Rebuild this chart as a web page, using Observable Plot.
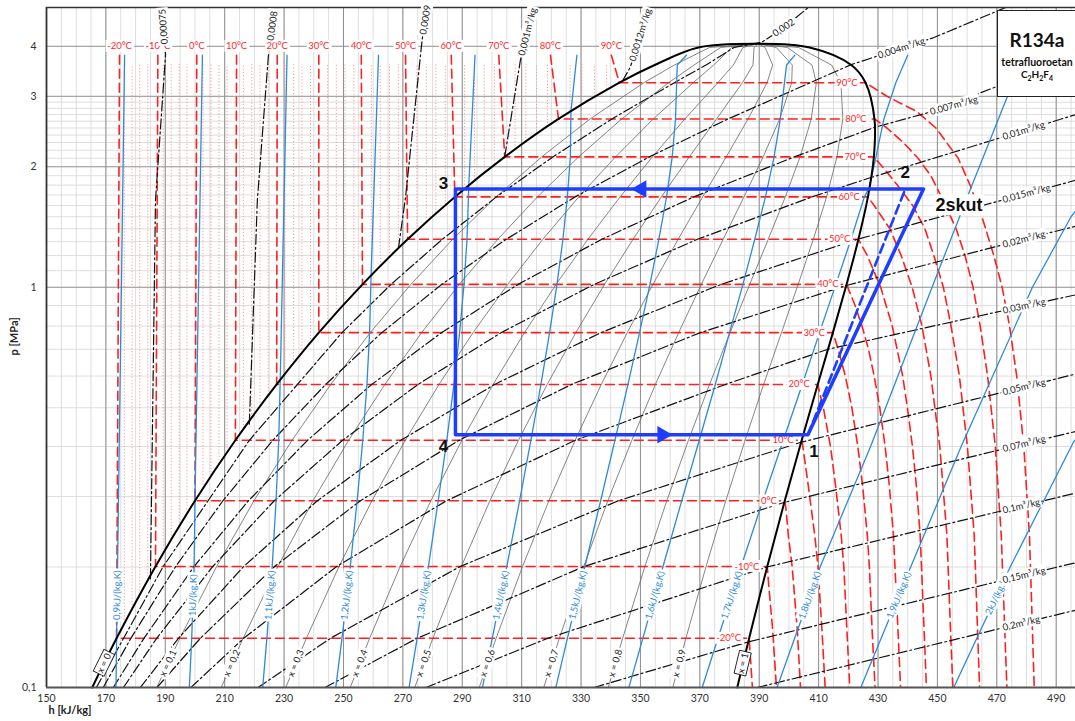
<!DOCTYPE html>
<html><head><meta charset="utf-8">
<script src="https://cdn.jsdelivr.net/npm/d3@7"></script>
<script src="https://cdn.jsdelivr.net/npm/@observablehq/plot@0.6"></script>
<style>
body{margin:0;background:#fff;font-family:Lato,"Liberation Sans",sans-serif;}
#wrap{position:relative;width:1075px;height:721px;overflow:hidden;}
#box{position:absolute;left:997px;top:10px;width:100px;height:87px;border:1.5px solid #222;background:#fff;box-sizing:border-box;}
#box .in{width:78px;text-align:center;color:#111;}
#box .t1{font-weight:bold;font-size:19px;margin-top:19px;line-height:20px;}
#box .t2{font-weight:bold;font-size:10.5px;margin-top:6px;line-height:12px;}
#box .t3{font-weight:bold;font-size:10px;line-height:13px;}
#box sub{font-size:7px;}
</style></head>
<body><div id="wrap"><div id="chart"></div>
<div id="box"><div class="in"><div class="t1">R134a</div><div class="t2">tetrafluoroetan</div><div class="t3">C<sub>2</sub>H<sub>2</sub>F<sub>4</sub></div></div></div>
</div>
<script>
// ================= DATA =================
const hTicks = [150,170,190,210,230,250,270,290,310,330,350,370,390,410,430,450,470,490];
const pTicks = [0.1,1,2,3,4];
const pMinorGrid = [0.2,0.3,0.4,0.5,0.6,0.7,0.8,0.9,1.1,1.2,1.3,1.4,1.5,1.6,1.7,1.8,1.9,2.1,2.2,2.3,2.4,2.5,2.6,2.7,2.8,2.9];

// saturation dome
const satP  = [0.1,0.1327,0.2006,0.2928,0.4146,0.5717,0.7702,1.0166,1.3179,1.6818,2.1168,2.6332,3.2442,3.5912,3.9724];
const satHf = [165.4,173.6,186.7,200.0,213.6,227.5,241.7,256.4,271.6,287.5,304.3,322.4,342.9,354.8,369.5];
const satHg = [382.6,386.6,392.7,398.6,404.3,409.7,414.8,419.4,423.4,426.6,428.6,428.8,425.8,421.0,407.0];
const critP = 4.0593, critH = 389.6;

// quality lines
const qualities = [0.1,0.2,0.3,0.4,0.5,0.6,0.7,0.8,0.9];
const qualityLabelP = 0.115;

// isotherms (major)
const isoT       = [-20,-10,0,10,20,30,40,50,60,70,80,90];
const isoPsat    = [0.1327,0.2006,0.2928,0.4146,0.5717,0.7702,1.0166,1.3179,1.6818,2.1168,2.6332,3.2442];
const isoHLiq    = [173.6,186.7,200.0,213.6,227.5,241.7,256.4,271.6,287.5,304.3,322.4,342.9];
const isoHLiqTop = [174.6,187.5,200.6,214.0,227.7,241.7,256.0,270.9,286.3,302.3,319.7,340.2];
const liquidTopP = 3.8, minorTopP = 3.6, isoLabelP = 4.0;
// superheated branches [p, h]
const sh_m20 = [[0.1327,386.6],[0.1,387.7]];
const sh_m10 = [[0.2006,392.7],[0.18,393.2],[0.14,394.5],[0.1,395.8]];
const sh_0   = [[0.2928,398.6],[0.28,399.0],[0.24,399.8],[0.2,401.1],[0.14,402.8],[0.1,403.9]];
const sh_10  = [[0.4146,404.3],[0.4,404.7],[0.32,406.5],[0.24,408.7],[0.2,409.8],[0.14,411.1],[0.1,412.2]];
const sh_20  = [[0.5717,409.7],[0.5,411.6],[0.4,414.0],[0.32,415.7],[0.24,417.6],[0.2,418.5],[0.14,419.5],[0.1,420.5]];
const sh_30  = [[0.7702,414.8],[0.7,416.6],[0.6,419.0],[0.5,421.2],[0.4,423.2],[0.32,424.8],[0.24,426.4],[0.2,427.1],[0.14,428.0],[0.1,429.0]];
const sh_40  = [[1.0166,419.4],[0.9,422.3],[0.8,424.6],[0.7,426.8],[0.6,428.7],[0.5,430.6],[0.4,432.4],[0.32,433.8],[0.24,435.2],[0.14,436.7],[0.1,437.6]];
const sh_50  = [[1.3179,423.4],[1.2,426.4],[1.0,430.9],[0.8,434.8],[0.6,438.3],[0.5,439.9],[0.4,441.6],[0.32,442.9],[0.24,444.2],[0.14,445.5],[0.1,446.3]];
const sh_60  = [[1.6818,426.6],[1.6,428.7],[1.4,434.0],[1.2,437.8],[1.0,441.5],[0.8,444.8],[0.6,447.8],[0.4,450.8],[0.24,453.2],[0.14,454.4],[0.1,455.2]];
const sh_70  = [[2.1168,428.6],[2.0,431.5],[1.8,436.5],[1.6,441.7],[1.4,445.8],[1.2,448.8],[1.0,452.0],[0.8,454.6],[0.6,457.4],[0.4,460.1],[0.24,462.4],[0.14,463.5],[0.1,464.2]];
const sh_80  = [[2.6332,428.8],[2.5,433.0],[2.3,438.5],[2.1,443.5],[1.9,447.8],[1.6,452.8],[1.4,456.3],[1.2,459.3],[1.0,462.0],[0.8,464.4],[0.6,466.9],[0.4,469.5],[0.24,471.5],[0.1,473.4]];
const sh_90  = [[3.2442,425.8],[3.0,433.0],[2.75,443.0],[2.5,449.5],[2.1,457.0],[1.8,461.0],[1.5,465.0],[1.2,469.0],[1.0,471.8],[0.8,474.3],[0.6,476.7],[0.4,479.1],[0.24,481.0],[0.1,482.6]];
const superheat = [sh_m20,sh_m10,sh_0,sh_10,sh_20,sh_30,sh_40,sh_50,sh_60,sh_70,sh_80,sh_90];

// minor (2 degC) liquid isotherms
const minorHLiq = [176.2,178.8,181.4,184.1,189.3,192.0,194.7,197.3,202.7,205.4,208.1,210.8,216.3,219.1,221.9,224.7,230.3,233.2,236.0,238.9,244.6,247.6,250.5,253.5,259.4,262.4,265.5,268.5,274.7,277.9,281.1,284.3,290.8,294.1,297.4,300.8,307.8,311.4,315.0,318.7,326.3,330.3,334.5,338.6];
const minorPsat = [0.1446,0.1573,0.1708,0.1852,0.2171,0.2345,0.2530,0.2724,0.3143,0.3377,0.3620,0.3876,0.4430,0.4715,0.5043,0.5377,0.6080,0.6455,0.6853,0.7267,0.8157,0.8630,0.9123,0.9636,1.0722,1.1301,1.1903,1.2531,1.3860,1.4566,1.5305,1.6052,1.7653,1.8500,1.9375,2.0265,2.2109,2.3080,2.4090,2.5140,2.7500,2.8700,2.9900,3.1200];

// isentropes [p, h]
const s090 = [[0.1,173.4],[0.1327,173.6],[3.8,176.3]];
const s100 = [[0.1,198.1],[0.1327,198.9],[0.2006,199.7],[0.2928,200.0],[3.8,202.5]];
const s110 = [[0.1,222.8],[0.1327,224.2],[0.2006,226.0],[0.2928,227.3],[0.4146,228.2],[0.585,228.7],[3.8,231.0]];
const s120 = [[0.1,247.4],[0.1327,249.5],[0.2006,252.3],[0.2928,254.6],[0.4146,256.5],[0.5717,257.9],[0.7702,258.8],[1.07,259.3],[3.8,261.8]];
const s130 = [[0.1,272.1],[0.1327,274.8],[0.2006,278.6],[0.2928,281.9],[0.4146,284.8],[0.5717,287.2],[0.7702,289.1],[1.0166,290.6],[1.3179,291.6],[1.79,292.2],[3.8,294.3]];
const s140 = [[0.1,296.8],[0.1327,300.1],[0.2006,305.0],[0.2928,309.3],[0.4146,313.1],[0.5717,316.5],[0.7702,319.4],[1.0166,321.9],[1.3179,323.9],[1.6818,325.4],[2.1168,326.4],[2.75,326.6],[3.8,328.6]];
const s150 = [[0.1,321.5],[0.1327,325.4],[0.2006,331.3],[0.2928,336.6],[0.4146,341.4],[0.5717,345.8],[0.7702,349.7],[1.0166,353.2],[1.3179,356.2],[1.6818,358.8],[2.1168,360.7],[2.6332,361.8],[3.2442,362.2],[3.5912,362.4],[3.8,365.5]];
const s160 = [[0.1,346.1],[0.1327,350.8],[0.2006,357.6],[0.2928,363.9],[0.4146,369.8],[0.5717,375.2],[0.7702,380.0],[1.0166,384.5],[1.3179,388.5],[1.6818,392.1],[2.1168,395.0],[2.6332,397.1],[3.2442,398.5],[3.5912,399.2],[3.8,402.0]];
const s170 = [[0.1,370.8],[0.1327,376.1],[0.2006,383.9],[0.2928,391.2],[0.4146,398.1],[0.5717,404.5],[0.7702,410.3],[1.0166,415.8],[1.3179,420.9],[1.6818,425.4],[1.77,427.0],[2.1168,429.3],[2.6332,432.0],[3.2442,436.0],[3.8,440.0]];
const s180 = [[0.1,396.0],[0.2,410.5],[0.4,427.5],[0.6,436.7],[1.0,448.2],[1.75,461.0],[3.0,473.6],[3.8,479.0]];
const s190 = [[0.1,424.2],[0.2,441.0],[0.4,458.0],[1.0,482.0],[1.5,495.0],[1.6,498.0]];
const s200 = [[0.1,455.5],[0.2,474.5],[0.41,495.8],[0.45,500.0]];
const isentropes = [s090,s100,s110,s120,s130,s140,s150,s160,s170,s180,s190,s200];
const isentropeNames = ["0,9","1","1,1","1,2","1,3","1,4","1,5","1,6","1,7","1,8","1,9","2"];
const isentropeLabelP = 0.17;

// isochores [p, h]
const v000075 = [[0.187,185.0],[1.65,186.7],[3.81,190.1],[4.48,189.4]];
const v00008  = [[0.455,218.3],[1.65,221.0],[3.77,224.7],[4.5,226.1]];
const v00009  = [[1.25,268.5],[1.68,270.9],[4.16,276.5],[4.66,277.6]];
const v0001   = [[2.12,304.3],[3.7,309.6],[4.35,312.0]];
const v00012  = [[3.27,343.9],[3.55,346.6],[4.27,350.0]];
const v0002   = [[0.1,166.8],[0.2006,189.3],[0.4146,218.3],[0.7702,249.5],[1.0166,266.0],[1.3179,283.3],[1.6818,301.5],[2.1168,320.5],[2.6332,340.4],[3.2442,361.4],[3.5912,372.1],[3.9724,381.5],[4.1,391.0],[4.45,398.2],[5.0,406.5]];
const v0004   = [[0.1,169.1],[0.1327,178.4],[0.2006,193.5],[0.2928,209.4],[0.4146,226.2],[0.5717,244.0],[0.7702,262.9],[1.0166,283.1],[1.3179,304.8],[1.6818,328.0],[2.1168,353.0],[2.6332,379.5],[3.2442,407.2],[3.6,421.0],[4.2,448.6],[4.86,469.0],[5.0,473.0]];
const v0007   = [[0.1,172.5],[0.1327,182.8],[0.2006,199.7],[0.2928,218.0],[0.4146,237.9],[0.5717,259.5],[0.7702,283.0],[1.0166,308.8],[1.3179,337.0],[1.6818,368.0],[2.1168,401.8],[2.51,428.9],[2.74,447.6],[3.15,468.9],[3.8,496.5]];
const v001    = [[0.1,175.9],[0.1327,187.1],[0.2006,206.0],[0.2928,226.7],[0.4146,249.7],[0.5717,275.1],[0.7702,303.1],[1.0166,334.4],[1.3179,369.2],[1.6818,407.8],[1.88,427.6],[2.5,482.0],[2.7,496.5]];
const v0015   = [[0.1,181.6],[0.1327,194.4],[0.2006,216.4],[0.2928,241.2],[0.4146,269.3],[0.5717,300.9],[0.7702,336.7],[1.0166,377.1],[1.32,423.4],[1.73,482.0],[1.85,496.5]];
const v002    = [[0.1,187.2],[0.1327,201.8],[0.2006,226.8],[0.2928,255.7],[0.4146,288.9],[0.5717,326.8],[0.7702,370.2],[1.01,419.3],[1.34,483.0],[1.42,496.5]];
const v003    = [[0.1,198.6],[0.1327,216.4],[0.2006,247.7],[0.2928,284.7],[0.4146,328.1],[0.5717,378.6],[0.70,413.1],[0.907,482.0],[0.957,496.5]];
const v005    = [[0.1,221.2],[0.1327,245.6],[0.2006,289.3],[0.2928,342.6],[0.41,404.1],[0.566,480.3],[0.607,496.5]];
const v007    = [[0.1,243.8],[0.1327,274.8],[0.2006,331.0],[0.29,398.4],[0.408,480.3],[0.436,496.5]];
const v01     = [[0.1,277.8],[0.1327,318.7],[0.2,392.6],[0.288,481.9],[0.306,496.5]];
const v015    = [[0.1,334.4],[0.130,386.3],[0.193,481.9],[0.205,496.5]];
const v02     = [[0.1,389.3],[0.147,482.2],[0.156,496.5]];
const topIsochores = [v000075,v00008,v00009,v0001,v00012,v0002];
const topIsochoreNames = ["0,00075","0,0008","0,0009","0,001m³/kg","0,0012m³/kg","0,002"];
const topIsochoreLabelIdx = [3,3,3,2,2,13];
const sideIsochores = [v0004,v0007,v001,v0015,v002,v003,v005,v007,v01,v015,v02];
const sideIsochoreNames = ["0,004m³/kg","0,007m³/kg","0,01m³/kg","0,015m³/kg","0,02m³/kg","0,03m³/kg","0,05m³/kg","0,07m³/kg","0,1m³/kg","0,15m³/kg","0,2m³/kg"];
const sideLabelH = [430,447.6,472,472,472,472,472,472,472,472,472];

// refrigeration cycle
const cycleNames = ["4","1","2skut","3"];
const cycleH = [287.7,406.4,445.3,287.7];
const cycleP = [0.428,0.428,1.76,1.76];
const point2H = 439.2, point2P = 1.76;
const arrowH = [357.4,350.3], arrowP = [0.428,1.76], arrowRot = [90,-90];

// ================= LAYOUT =================
const W=1075,H=721,mL=46,mR=0,mT=7,mB=34;
const hDom=[150,496.5], pDom=[0.1,5];
const sx = h => mL + (h-hDom[0])/(hDom[1]-hDom[0])*(W-mL-mR);
const sy = p => mT + (Math.log10(pDom[1])-Math.log10(p))/(Math.log10(pDom[1])-Math.log10(pDom[0]))*(H-mT-mB);
const ang = (a,b) => Math.atan2(sy(b.p)-sy(a.p), sx(b.h)-sx(a.h))*180/Math.PI;
const toRows = (arr, key, val) => arr.map(([p,h]) => ({[key]:val, p, h}));
function atP(pts, pT){
  for (let i=0;i<pts.length-1;i++){const a=pts[i],b=pts[i+1];
    if ((a.p-pT)*(b.p-pT)<=0 && a.p!==b.p){
      const t=(Math.log(pT)-Math.log(a.p))/(Math.log(b.p)-Math.log(a.p));
      const lo=a.p<b.p?a:b, hi=a.p<b.p?b:a;
      return {h:a.h+t*(b.h-a.h), p:pT, angle:ang(lo,hi)};}}
}
function atH(pts, hT){
  for (let i=0;i<pts.length-1;i++){const a=pts[i],b=pts[i+1];
    if ((a.h-hT)*(b.h-hT)<=0 && a.h!==b.h){
      const t=(hT-a.h)/(b.h-a.h);
      const lp=Math.log(a.p)+t*(Math.log(b.p)-Math.log(a.p));
      const l=a.h<b.h?a:b, r=a.h<b.h?b:a;
      return {h:hT, p:Math.exp(lp), angle:ang(l,r)};}}
}

// ---- build tables ----
const liqDome = satP.map((p,i)=>({p,h:satHf[i]}));
const vapDome = satP.map((p,i)=>({p,h:satHg[i]}));
const domeRows = [...liqDome, {p:critP,h:critH}, ...vapDome.slice().reverse()];
const qualityLines = qualities.map(x => [...satP.map((p,i)=>({x,p,h:satHf[i]+x*(satHg[i]-satHf[i])})), {x,p:critP,h:critH}]);
const qualityRows = qualityLines.flat();
const qualityLabels = [
  {t:"x = 0", ...atP(liqDome, qualityLabelP), boxed:true},
  ...qualityLines.map((L,i)=>({t:"x = "+String(qualities[i]).replace(".",","), ...atP(L, qualityLabelP), boxed:false})),
  {t:"x = 1", ...atP(vapDome, qualityLabelP), boxed:true}
];
const isoRows = isoT.flatMap((T,i)=>[
  {T,p:liquidTopP,h:isoHLiqTop[i]},
  {T,p:isoPsat[i],h:isoHLiq[i]},
  ...toRows(superheat[i],"T",T)
]);
const isoTopLabels = isoT.map((T,i)=>({t:T+"°C",h:isoHLiqTop[i],p:isoLabelP}));
const isoMidLabels = isoT.map((T,i)=>({t:T+"°C",h:superheat[i][0][1],p:isoPsat[i]}));
const minorRows = minorHLiq.map((h,i)=>({h,p:minorPsat[i]}));
const isenRows = isentropes.flatMap((a,i)=>toRows(a,"s",i));
const isenLabels = isentropes.map((a,i)=>({t:isentropeNames[i]+"kJ/(kg.K)", ...atP(toRows(a,"s",i), isentropeLabelP)}));
const isochoreRows = [...topIsochores, ...sideIsochores].flatMap((a,i)=>toRows(a,"v",i));
const topIsoLabels = topIsochores.map((a,i)=>{const k=topIsochoreLabelIdx[i];
  return {t:topIsochoreNames[i], p:a[k][0], h:a[k][1], angle:ang({p:a[k-1][0],h:a[k-1][1]},{p:a[k][0],h:a[k][1]})};});
const sideIsoLabels = sideIsochores.map((a,i)=>({t:sideIsochoreNames[i], ...atH(toRows(a,"v",i), sideLabelH[i])}));
const cycleRows = [...cycleH.map((h,i)=>({h,p:cycleP[i]})), {h:cycleH[0],p:cycleP[0]}];
const compRows = [{h:cycleH[1],p:cycleP[1]},{h:point2H,p:point2P}];
const arrowRows = arrowH.map((h,i)=>({h,p:arrowP[i],r:arrowRot[i]}));

const RED="#ff1f1f", BLUE="#2e8ad8", CYC="#1f3dff";
const BG = {ariaLabel:()=>"bglabel", className:"bglabel"};
const BX = {ariaLabel:()=>"boxlabel", className:"boxlabel"};
const chart = Plot.plot({
  width:W, height:H, marginLeft:mL, marginRight:mR, marginTop:mT, marginBottom:mB,
  style:{fontFamily:"Lato, 'Liberation Sans', sans-serif", fontSize:"10.5px", color:"#333", background:"#fff"},
  x:{domain:hDom, ticks:hTicks, tickSize:0, tickPadding:7, label:null, tickFormat:d=>String(d)},
  y:{type:"log", domain:pDom, ticks:pTicks, tickSize:0, tickPadding:10, label:null, tickFormat:d=>String(d).replace(".",",")},
  marks:[
    Plot.ruleX(d3.range(155,496,5), {stroke:"#d6d6d6", strokeWidth:0.8}),
    Plot.ruleY(pMinorGrid, {stroke:"#d6d6d6", strokeWidth:0.8}),
    Plot.ruleX(hTicks, {stroke:"#8f8f8f", strokeWidth:1}),
    Plot.ruleY(pTicks, {stroke:"#8f8f8f", strokeWidth:1}),
    Plot.ruleX(minorRows, {x:"h", y1:"p", y2:()=>minorTopP, stroke:"#ff8a8a", strokeWidth:0.9, strokeDasharray:"1.2,2"}),
    Plot.line(qualityRows, {x:"h", y:"p", z:"x", stroke:"#666", strokeWidth:0.8, clip:true}),
    Plot.line(isoRows, {x:"h", y:"p", z:"T", stroke:RED, strokeWidth:1.6, strokeDasharray:"9,5", clip:true}),
    Plot.line(isochoreRows, {x:"h", y:"p", z:"v", stroke:"#111", strokeWidth:1.2, strokeDasharray:"10,3,2,3", clip:true}),
    Plot.line(isenRows, {x:"h", y:"p", z:"s", stroke:BLUE, strokeWidth:1.3, clip:true}),
    Plot.line(domeRows, {x:"h", y:"p", stroke:"#000", strokeWidth:2, curve:"catmull-rom"}),
    Plot.ruleX([hDom[0]], {stroke:"#333", strokeWidth:1.8}),
    Plot.ruleY([pDom[0]], {stroke:"#555", strokeWidth:2}),
    Plot.ruleY([pDom[1]], {stroke:"#333", strokeWidth:1.5}),
    // labels with white box
    Plot.text(isoTopLabels, {x:"h", y:"p", text:"t", fill:RED, fontSize:9.5, ...BG}),
    Plot.text(isoMidLabels, {x:"h", y:"p", text:"t", fill:RED, fontSize:9.5, textAnchor:"end", dx:-8, ...BG}),
    Plot.text(isenLabels, {x:"h", y:"p", text:"t", rotate:"angle", fill:BLUE, fontSize:9.5, ...BG}),
    Plot.text(qualityLabels.filter(d=>!d.boxed), {x:"h", y:"p", text:"t", rotate:"angle", fill:"#222", fontSize:9.5, ...BG}),
    Plot.text(qualityLabels.filter(d=>d.boxed), {x:"h", y:"p", text:"t", rotate:"angle", fill:"#222", fontSize:9.5, ...BX}),
    Plot.text(topIsoLabels, {x:"h", y:"p", text:"t", rotate:"angle", fill:"#222", fontSize:9.5, ...BG}),
    Plot.text(sideIsoLabels, {x:"h", y:"p", text:"t", rotate:"angle", fill:"#222", fontSize:9.5, textAnchor:"start", ...BG}),
    // cycle
    Plot.line(compRows, {x:"h", y:"p", stroke:CYC, strokeWidth:2.6, strokeDasharray:"9,5"}),
    Plot.line(cycleRows, {x:"h", y:"p", stroke:CYC, strokeWidth:3.5}),
    Plot.dot(arrowRows, {x:"h", y:"p", symbol:"triangle", r:6.5, fill:CYC, rotate:"r"}),
    // cycle labels
    Plot.text([{t:cycleNames[0],h:cycleH[0],p:cycleP[0]}], {x:"h", y:"p", text:"t", dx:-12, dy:12, fontSize:17, fontWeight:"bold", fill:"#111", fontFamily:"Liberation Sans"}),
    Plot.text([{t:cycleNames[1],h:cycleH[1],p:cycleP[1]}], {x:"h", y:"p", text:"t", dx:6, dy:17, fontSize:17, fontWeight:"bold", fill:"#111", fontFamily:"Liberation Sans"}),
    Plot.text([{t:"2",h:point2H,p:point2P}], {x:"h", y:"p", text:"t", dx:0, dy:-16, fontSize:17, fontWeight:"bold", fill:"#111", fontFamily:"Liberation Sans"}),
    Plot.text([{t:cycleNames[2],h:cycleH[2],p:cycleP[2]}], {x:"h", y:"p", text:"t", dx:12, dy:16, textAnchor:"start", fontSize:18, fontWeight:"bold", fill:"#111", fontFamily:"Liberation Sans", ...BG}),
    Plot.text([{t:cycleNames[3],h:cycleH[3],p:cycleP[3]}], {x:"h", y:"p", text:"t", dx:-12, dy:-5, fontSize:17, fontWeight:"bold", fill:"#111", fontFamily:"Liberation Sans"}),
    // axis titles
    Plot.text(["p [MPa]"], {frameAnchor:"left", dx:-32, dy:8, rotate:-90, fontWeight:"bold", fontSize:11, fill:"#222"}),
    Plot.text(["h [kJ/kg]"], {frameAnchor:"bottom-left", dx:2, dy:26, textAnchor:"start", fontWeight:"bold", fontSize:11, fill:"#222"})
  ]
});
document.getElementById("chart").appendChild(chart);

function addBoxes(label, stroke){
  const set = new Set([
    ...chart.querySelectorAll(`text[aria-label="${label}"]`),
    ...chart.querySelectorAll(`g.${label} text`),
    ...chart.querySelectorAll(`g[aria-label="${label}"] text`)
  ]);
  set.forEach(t=>{
    const bb=t.getBBox();
    if(!bb.width) return;
    const r=document.createElementNS("http://www.w3.org/2000/svg","rect");
    r.setAttribute("x",bb.x-1.5); r.setAttribute("y",bb.y-0.5);
    r.setAttribute("width",bb.width+3); r.setAttribute("height",bb.height+1);
    r.setAttribute("fill","#fff");
    if(stroke){r.setAttribute("stroke","#222");r.setAttribute("stroke-width","0.9");}
    const tr=t.getAttribute("transform"); if(tr) r.setAttribute("transform",tr);
    t.parentNode.insertBefore(r,t);
  });
}
addBoxes("bglabel",false);
addBoxes("boxlabel",true);
</script></body></html>
